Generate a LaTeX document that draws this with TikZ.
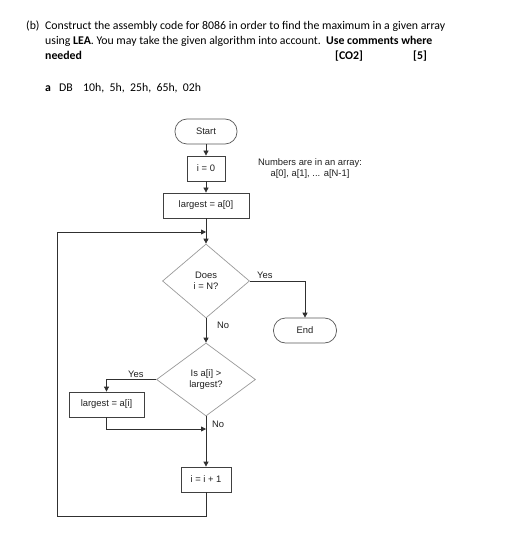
\documentclass[tikz,border=0pt]{standalone}
\usepackage{fontspec}
\setmainfont{Carlito}
\newfontfamily\arialf{Liberation Sans}
\usetikzlibrary{shapes.geometric,arrows.meta}
\definecolor{boxgray}{HTML}{404040}
\definecolor{diagray}{HTML}{9A9A9A}
\definecolor{termgray}{HTML}{5A5A5A}
\definecolor{linegray}{HTML}{303030}
\definecolor{txtgray}{HTML}{202020}
\begin{document}
\begin{tikzpicture}[x=1pt,y=-1pt,
  hdr/.style={anchor=base west,inner sep=0pt,font=\fontsize{11.8}{14}\selectfont},
  fc/.style={font=\arialf\fontsize{9.4}{11}\selectfont,align=center,inner sep=0pt,text=txtgray},
  procbox/.style={fc,draw=boxgray,line width=0.8pt,minimum height=25pt},
  term/.style={fc,draw=termgray,line width=0.7pt,rounded corners=12pt,minimum height=25pt},
  decis/.style={fc,draw=diagray,line width=0.7pt,shape=diamond},
  lbl/.style={fc,anchor=base west},
  conn/.style={draw=linegray,line width=0.8pt},
  arr/.style={conn,-{Triangle[length=5pt,width=5pt]}}]
\useasboundingbox (0,0) rectangle (516,537);
\fill[white] (0,0) rectangle (516,537);

% header text
\node[hdr] (hb) at (26,30) {(b)};
\node[hdr] (h1) at (45,30) {Construct the assembly code for 8086 in order to find the maximum in a given array};
\node[hdr] (h2) at (45,45) {using \textbf{LEA}. You may take the given algorithm into account.\ \ \textbf{Use comments where}};
\node[hdr] (h3) at (45,60) {\textbf{needed}};
\node[hdr] (co) at (335,60) {\textbf{[CO2]}};
\node[hdr] (mk) at (413,60) {\textbf{[5]}};
\node[hdr] (da) at (45,92) {\textbf{a}};
\node[hdr] (db) at (59,92) {DB};
\node[hdr] (dv) at (83,92) {10h,\ \ 5h,\ \ 25h,\ \ 65h,\ \ 02h};

% flowchart nodes
\node[term,minimum width=62pt] (start) at (206,131.5) {Start};
\node[procbox,minimum width=38pt] (i0) at (206,168.5) {i = 0};
\node[procbox,minimum width=86pt] (l0) at (206,205.5) {largest = a[0]};
\node[fc] (note) at (310,168.5) {Numbers are in an array:\\a[0], a[1], ... a[N-1]};
\node[decis,minimum width=87pt,minimum height=74pt] (d1) at (206,281) {Does\\i = N?};
\node[term,minimum width=63pt] (end) at (305,330.5) {End};
\node[decis,minimum width=99pt,minimum height=73pt] (d2) at (206,379.5) {Is a[i] \textgreater\\largest?};
\node[procbox,minimum width=75pt] (la) at (106.5,404.5) {largest = a[i]};
\node[procbox,minimum width=50pt] (inc) at (206,479.5) {i = i + 1};

% labels
\node[lbl] (y1) at (257,278) {Yes};
\node[lbl] (n1) at (217,328) {No};
\node[lbl] (y2) at (128,377) {Yes};
\node[lbl] (n2) at (212,427) {No};

% junction coordinates
\coordinate (j1) at (206,232);
\coordinate (j2) at (206,429);
\coordinate (lb) at (206,516);
\coordinate (ll) at (57,516);
\coordinate (lt) at (57,232);

% connectors
\draw[arr] (start) -- (i0);
\draw[arr] (i0) -- (l0);
\draw[arr] (l0) -- (d1);
\draw[arr] (d1.east) -| (end.north);
\draw[arr] (d1) -- (d2);
\draw[arr] (d2.west) -| (la.north);
\draw[arr] (la.south) |- (j2);
\draw[arr] (d2) -- (inc);
\draw[arr] (inc.south) -- (lb) -- (ll) -- (lt) -- (j1);
\end{tikzpicture}
\end{document}
